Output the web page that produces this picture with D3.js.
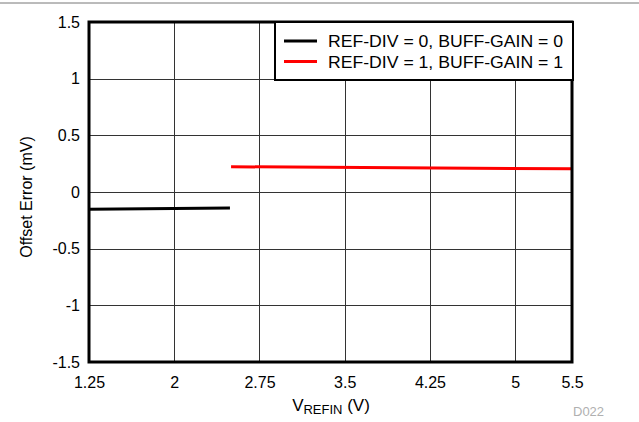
<!DOCTYPE html>
<meta charset="utf-8">
<style>
body { margin: 0; background: #fff; }
svg { font-family: "Liberation Sans", Arial, sans-serif; }
.grid line { stroke: #333; stroke-width: 1; shape-rendering: crispEdges; }
.tick-label { font-size: 16px; fill: #000; }
</style>
<body>
<script src="https://d3js.org/d3.v7.min.js"></script>
<script>

var width = 639,
    height = 422;

// tick values
var xTicks = [1.25, 2, 2.75, 3.5, 4.25, 5, 5.5];
var yTicks = [-1.5, -1, -0.5, 0, 0.5, 1, 1.5];

// series: VREFIN (V) vs offset error (mV)
var refDiv0X = [1.25, 2.49];
var refDiv0Y = [-0.153, -0.141];
var refDiv1X = [2.5, 5.5];
var refDiv1Y = [0.223, 0.205];

var legendNames = ["REF-DIV = 0, BUFF-GAIN = 0", "REF-DIV = 1, BUFF-GAIN = 1"];
var colors = ["#000000", "#ff0000"];

var x = d3.scaleLinear().domain([1.25, 5.5]).range([89, 572]);
var y = d3.scaleLinear().domain([-1.5, 1.5]).range([362, 22]);

var svg = d3.select("body").append("svg")
    .attr("width", width)
    .attr("height", height);

// thin rule along the top
svg.append("line")
    .attr("x1", 0).attr("x2", width)
    .attr("y1", 3).attr("y2", 3)
    .attr("stroke", "#777").attr("stroke-width", 1);

// grid
var grid = svg.append("g").attr("class", "grid");
grid.selectAll(".vx")
    .data(xTicks.slice(1, -1))
  .enter().append("line")
    .attr("x1", function(d) { return Math.round(x(d)) + 0.5; })
    .attr("x2", function(d) { return Math.round(x(d)) + 0.5; })
    .attr("y1", y(1.5)).attr("y2", y(-1.5));
grid.selectAll(".hy")
    .data(yTicks.slice(1, -1))
  .enter().append("line")
    .attr("y1", function(d) { return Math.round(y(d)) + 0.5; })
    .attr("y2", function(d) { return Math.round(y(d)) + 0.5; })
    .attr("x1", x(1.25)).attr("x2", x(5.5));

// axes labels via d3 axis, domain removed
var xAxis = svg.append("g")
    .attr("transform", "translate(0," + y(-1.5) + ")")
    .call(d3.axisBottom(x).tickValues(xTicks).tickSize(0).tickPadding(15)
      .tickFormat(function(d) { return String(d); }));
xAxis.select(".domain").remove();
xAxis.selectAll("text").attr("class", "tick-label").attr("font-size", null).attr("font-family", null);

var yAxis = svg.append("g")
    .attr("transform", "translate(" + x(1.25) + ",0)")
    .call(d3.axisLeft(y).tickValues(yTicks).tickSize(0).tickPadding(9)
      .tickFormat(function(d) { return String(d); }));
yAxis.select(".domain").remove();
yAxis.selectAll("text").attr("class", "tick-label").attr("font-size", null).attr("font-family", null);

// data lines
var line = d3.line()
    .x(function(d) { return x(d[0]); })
    .y(function(d) { return y(d[1]); });

var series = [d3.zip(refDiv0X, refDiv0Y), d3.zip(refDiv1X, refDiv1Y)];
svg.selectAll(".series")
    .data(series)
  .enter().append("path")
    .attr("fill", "none")
    .attr("stroke", function(d, i) { return colors[i]; })
    .attr("stroke-width", 3)
    .attr("d", line);

// frame
svg.append("rect")
    .attr("x", x(1.25)).attr("y", y(1.5))
    .attr("width", x(5.5) - x(1.25))
    .attr("height", y(-1.5) - y(1.5))
    .attr("fill", "none")
    .attr("stroke", "#000")
    .attr("stroke-width", 3);

// legend
var lg = svg.append("g");
lg.append("rect")
    .attr("x", 275).attr("y", 22)
    .attr("width", 298).attr("height", 58)
    .attr("fill", "#fff")
    .attr("stroke", "#000")
    .attr("stroke-width", 2);
legendNames.forEach(function(name, i) {
  var cy = 41 + i * 20.5;
  lg.append("line")
      .attr("x1", 284).attr("x2", 317)
      .attr("y1", cy).attr("y2", cy)
      .attr("stroke", colors[i])
      .attr("stroke-width", 3);
  lg.append("text")
      .attr("x", 328).attr("y", cy + 6)
      .attr("font-size", "16px")
      .attr("textLength", 235)
      .attr("lengthAdjust", "spacingAndGlyphs")
      .text(name);
});

// axis titles
svg.append("text")
    .attr("transform", "translate(32,197) rotate(-90)")
    .attr("text-anchor", "middle")
    .attr("font-size", "16px")
    .text("Offset Error (mV)");

var xt = svg.append("text")
    .attr("x", 331).attr("y", 411)
    .attr("text-anchor", "middle")
    .attr("font-size", "17px");
xt.append("tspan").text("V");
xt.append("tspan").attr("font-size", "13px").attr("dy", 3).text("REFIN");
xt.append("tspan").attr("dy", -3).text(" (V)");

svg.append("text")
    .attr("x", 573).attr("y", 416)
    .attr("font-size", "13px")
    .attr("fill", "#b0b0b0")
    .text("D022");

</script>
</body>
